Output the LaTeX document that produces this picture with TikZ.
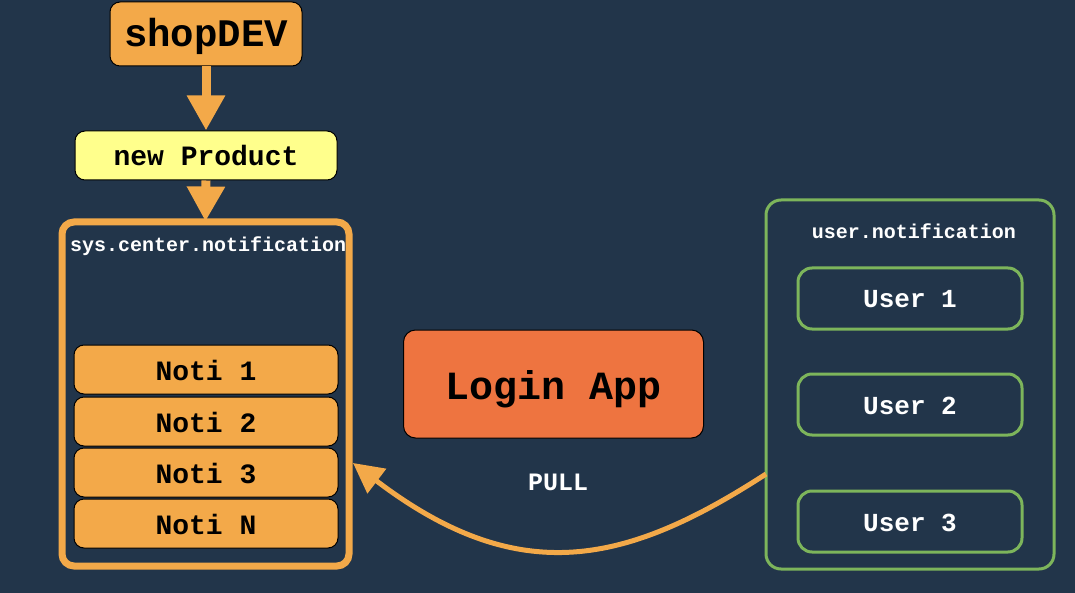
\documentclass[tikz,border=0pt]{standalone}
\usepackage{fontspec}
\setmonofont{Liberation Mono}
\usetikzlibrary{arrows.meta}
\definecolor{bg}{HTML}{22354A}
\definecolor{orng}{HTML}{F3A949}
\definecolor{yel}{HTML}{FFFF8C}
\definecolor{logor}{HTML}{EE7440}
\definecolor{grn}{HTML}{7DB55B}
\newcommand{\mfont}[1]{\ttfamily\bfseries\fontsize{#1}{#1}\selectfont}
\tikzset{
  blk/.style={draw=black, line width=1pt, rounded corners=10pt, inner sep=0pt,
    text depth=0pt, text=black},
  notibox/.style={blk, fill=orng, minimum width=264pt, minimum height=49pt, text height=21pt, font=\mfont{28}},
  userbox/.style={draw=grn, line width=3pt, rounded corners=14pt, inner sep=0pt,
    minimum width=224pt, minimum height=61pt, text=white, text height=19pt, text depth=0pt,
    font=\mfont{26}},
  lbl/.style={inner sep=0pt, text=white},
  bigarrow/.style={draw=orng, line width=9pt, -{Triangle[length=35pt,width=36pt]}},
  pullarrow/.style={draw=orng, line width=5pt, -{Triangle[length=30pt,width=30pt]}},
}
\begin{document}
\begin{tikzpicture}[x=1pt,y=-1pt]
\useasboundingbox (0,0) rectangle (1075,593);
\fill[bg] (0,0) rectangle (1075,593);
% left column
\node[blk, fill=orng, minimum width=192pt, minimum height=64pt, text height=26pt, font=\mfont{39}] (shop) at (206,34) {shopDEV};
\node[blk, fill=yel, minimum width=262pt, minimum height=49pt, text height=21pt, font=\mfont{28}] (newp) at (206,155.5) {new Product};
\node[draw=orng, line width=7pt, rounded corners=12pt, minimum width=287pt, minimum height=344pt, inner sep=0pt] (sys) at (205.5,394) {};
\node[lbl, anchor=base west, font=\mfont{20}] (syslbl) at (70,252) {sys.center.notification};
\node[notibox] (n1) at (206,369.5) {Noti 1};
\node[notibox] (n2) at (206,421.5) {Noti 2};
\node[notibox] (n3) at (206,472.5) {Noti 3};
\node[notibox] (nN) at (206,523.5) {Noti N};
\draw[bigarrow] (shop.south) -- (newp.north);
\draw[bigarrow, shorten >=-3pt] (newp.south) -- (sys.north);
% middle
\node[blk, fill=logor, rounded corners=12pt, minimum width=300pt, minimum height=108pt, text height=30pt, font=\mfont{40}] (login) at (553.5,384) {Login App};
\node[lbl, anchor=base, font=\mfont{25}] (pull) at (558,490) {PULL};
% right column
\node[draw=grn, line width=3pt, rounded corners=15pt, minimum width=288pt, minimum height=369pt, inner sep=0pt] (ubox) at (910,384.5) {};
\node[lbl, anchor=base, font=\mfont{20}] (ulbl) at (914,239) {user.notification};
\node[userbox] (u1) at (910,298.5) {User 1};
\node[userbox] (u2) at (910,404.5) {User 2};
\node[userbox] (u3) at (910,521.5) {User 3};
% pull arrow
\coordinate (pullstart) at (766,474);
\coordinate (pullend) at (353,463);
\draw[pullarrow] (pullstart) .. controls (627,564) and (520,590) .. (pullend);
\end{tikzpicture}
\end{document}
